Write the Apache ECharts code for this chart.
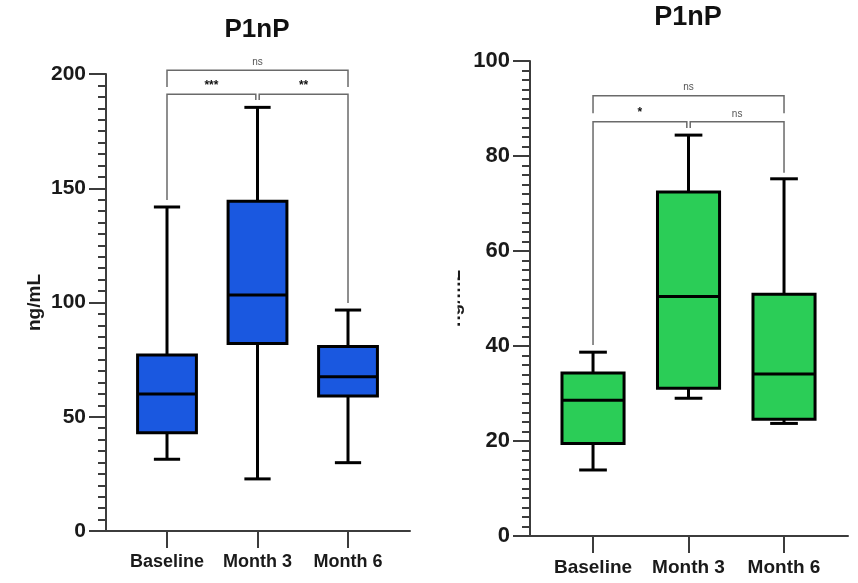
<!DOCTYPE html>
<html>
<head>
<meta charset="utf-8">
<script src="https://cdn.jsdelivr.net/npm/echarts@6/dist/echarts.min.js"></script>
<style>
html,body{margin:0;padding:0;background:#fff;}
#chart{width:858px;height:583px;}
</style>
</head>
<body>
<div id="chart"></div>
<script>
// ---- data ----
const categories = ['Baseline', 'Month 3', 'Month 6'];
const titles = ['P1nP', 'P1nP'];
const yAxisName = 'ng/mL';

const leftMin    = [31.4, 22.8, 29.9];
const leftQ1     = [43.0, 82.1, 59.1];
const leftMedian = [60.0, 103.3, 67.5];
const leftQ3     = [77.0, 144.3, 80.7];
const leftMax    = [141.8, 185.4, 96.7];
const leftTicks  = [0, 50, 100, 150, 200];

const rightMin    = [13.9, 29.0, 23.7];
const rightQ1     = [19.5, 31.1, 24.6];
const rightMedian = [28.6, 50.4, 34.1];
const rightQ3     = [34.3, 72.4, 50.9];
const rightMax    = [38.7, 84.4, 75.2];
const rightTicks  = [0, 20, 40, 60, 80, 100];

// significance brackets (category index from/to, bar height, leg ends, label)
const bracketFrom = [0, 1, 0];
const bracketTo   = [1, 2, 2];
const leftBracketY       = [191.1, 191.1, 201.6];
const leftBracketLegFrom = [144.9, 188.6, 194.3];
const leftBracketLegTo   = [188.6, 99.8, 194.3];
const leftBracketLabel   = ['***', '**', 'ns'];
const rightBracketY       = [87.2, 87.2, 92.7];
const rightBracketLegFrom = [40.2, 85.9, 89.0];
const rightBracketLegTo   = [85.9, 76.5, 89.0];
const rightBracketLabel   = ['*', 'ns', 'ns'];

// ---- styles ----
const FONT = "'Liberation Sans', Arial, Helvetica, sans-serif";
const AXIS_COLOR = '#3c3c3c';
const BOX_W = 0.65;
const CAP_W = 0.29;

function boxData(mn, q1, md, q3, mx) {
  return categories.map((c, i) => [i, mn[i], q1[i], md[i], q3[i], mx[i]]);
}
function bracketData(y, lf, lt, lab) {
  return bracketFrom.map((f, i) => ({ value: [f, bracketTo[i], y[i], lf[i], lt[i]], label: lab[i] }));
}

function makeBoxRender(color) {
  return function (params, api) {
    const x = api.value(0);
    const pMin = api.coord([x, api.value(1)]);
    const pQ1 = api.coord([x, api.value(2)]);
    const pMd = api.coord([x, api.value(3)]);
    const pQ3 = api.coord([x, api.value(4)]);
    const pMax = api.coord([x, api.value(5)]);
    const half = api.size([BOX_W, 0])[0] / 2;
    const cap = api.size([CAP_W, 0])[0] / 2;
    const cx = pMd[0];
    const ls = { stroke: '#000', lineWidth: 3 };
    return {
      type: 'group',
      children: [
        { type: 'line', shape: { x1: cx, y1: pMax[1], x2: cx, y2: pQ3[1] }, style: ls },
        { type: 'line', shape: { x1: cx, y1: pQ1[1], x2: cx, y2: pMin[1] }, style: ls },
        { type: 'line', shape: { x1: cx - cap, y1: pMax[1], x2: cx + cap, y2: pMax[1] }, style: ls },
        { type: 'line', shape: { x1: cx - cap, y1: pMin[1], x2: cx + cap, y2: pMin[1] }, style: ls },
        { type: 'rect', shape: { x: cx - half, y: pQ3[1], width: half * 2, height: pQ1[1] - pQ3[1] },
          style: { fill: color, stroke: '#000', lineWidth: 3 } },
        { type: 'line', shape: { x1: cx - half, y1: pMd[1], x2: cx + half, y2: pMd[1] }, style: ls }
      ]
    };
  };
}

function makeBracketRender(dataArr) {
  return function (params, api) {
    const f = api.value(0), t = api.value(1);
    const y = api.value(2), lf = api.value(3), lt = api.value(4);
    const insetF = (f === 1) ? 1.7 : 0;
    const insetT = (t === 1) ? 1.7 : 0;
    const a0 = api.coord([f, lf]);
    const a1 = api.coord([f, y]);
    const b1 = api.coord([t, y]);
    const b0 = api.coord([t, lt]);
    const xa = a1[0] + insetF, xb = b1[0] - insetT;
    const lab = dataArr[params.dataIndex].label;
    return {
      type: 'group',
      children: [
        { type: 'polyline', shape: { points: [[xa, a0[1]], [xa, a1[1]], [xb, b1[1]], [xb, b0[1]]] },
          style: { stroke: '#6a6a6a', lineWidth: 1.5, fill: null } },
        { type: 'text', style: { text: lab, x: (xa + xb) / 2, y: a1[1] - 3, align: 'center', verticalAlign: 'bottom',
          font: (lab === 'ns' ? 'normal 10px ' : 'bold 12px ') + FONT, fill: lab === 'ns' ? '#555' : '#111' } }
      ]
    };
  };
}

function xAxisCfg(gridIndex, min, max, fontSize) {
  return {
    type: 'value', gridIndex: gridIndex, min: min, max: max,
    splitLine: { show: false },
    axisLine: { show: true, onZero: false, lineStyle: { color: AXIS_COLOR, width: 2 } },
    axisTick: { show: true, customValues: [0, 1, 2], length: 17, lineStyle: { color: AXIS_COLOR, width: 2 } },
    axisLabel: { customValues: [0, 1, 2], formatter: v => categories[Math.round(v)], margin: 22,
      fontFamily: FONT, fontWeight: 'bold', fontSize: fontSize, color: '#1a1a1a' }
  };
}
function yAxisCfg(gridIndex, ticks, fontSize, nameGap) {
  return {
    type: 'value', gridIndex: gridIndex, min: ticks[0], max: ticks[ticks.length - 1],
    interval: ticks[1] - ticks[0],
    name: yAxisName, nameLocation: 'middle', nameGap: nameGap, nameRotate: 90,
    nameTextStyle: { fontFamily: FONT, fontWeight: 'bold', fontSize: 19, color: '#1a1a1a' },
    splitLine: { show: false },
    axisLine: { show: true, onZero: false, lineStyle: { color: AXIS_COLOR, width: 2 } },
    axisTick: { show: true, length: 17, lineStyle: { color: AXIS_COLOR, width: 2 } },
    minorTick: { show: true, splitNumber: 10, length: 8, lineStyle: { color: AXIS_COLOR, width: 2 } },
    minorSplitLine: { show: false },
    axisLabel: { margin: 20, fontFamily: FONT, fontWeight: 'bold', fontSize: fontSize, color: '#1a1a1a' }
  };
}

const leftBrackets = bracketData(leftBracketY, leftBracketLegFrom, leftBracketLegTo, leftBracketLabel);
const rightBrackets = bracketData(rightBracketY, rightBracketLegFrom, rightBracketLegTo, rightBracketLabel);

const chart = echarts.init(document.getElementById('chart'), null, { renderer: 'canvas' });
chart.setOption({
  backgroundColor: '#fff',
  animation: false,
  title: [
    { text: titles[0], left: 257, top: 17, textAlign: 'center', padding: 0,
      textStyle: { fontFamily: FONT, fontWeight: 'bold', fontSize: 26, color: '#111' } },
    { text: titles[1], left: 688, top: 4, textAlign: 'center', padding: 0,
      textStyle: { fontFamily: FONT, fontWeight: 'bold', fontSize: 27, color: '#111' } }
  ],
  grid: [
    { left: 106, width: 304, top: 74, height: 457 },
    { left: 530, width: 318, top: 61, height: 475 }
  ],
  xAxis: [xAxisCfg(0, -0.674, 2.685, 18), xAxisCfg(1, -0.66, 2.67, 19)],
  yAxis: [yAxisCfg(0, leftTicks, 21, 62), yAxisCfg(1, rightTicks, 22, 66)],
  graphic: [
    { type: 'rect', left: 436, top: 240, shape: { width: 21.5, height: 110 }, style: { fill: '#fff' }, z: 100 }
  ],
  series: [
    { type: 'custom', name: 'left box', xAxisIndex: 0, yAxisIndex: 0, clip: false,
      renderItem: makeBoxRender('#1a58e0'),
      encode: { x: 0, y: [1, 2, 3, 4, 5] },
      data: boxData(leftMin, leftQ1, leftMedian, leftQ3, leftMax) },
    { type: 'custom', name: 'left sig', xAxisIndex: 0, yAxisIndex: 0, clip: false,
      renderItem: makeBracketRender(leftBrackets),
      encode: { x: [0, 1], y: [2, 3, 4] },
      data: leftBrackets.map(d => d.value) },
    { type: 'custom', name: 'right box', xAxisIndex: 1, yAxisIndex: 1, clip: false,
      renderItem: makeBoxRender('#2bcd57'),
      encode: { x: 0, y: [1, 2, 3, 4, 5] },
      data: boxData(rightMin, rightQ1, rightMedian, rightQ3, rightMax) },
    { type: 'custom', name: 'right sig', xAxisIndex: 1, yAxisIndex: 1, clip: false,
      renderItem: makeBracketRender(rightBrackets),
      encode: { x: [0, 1], y: [2, 3, 4] },
      data: rightBrackets.map(d => d.value) }
  ]
});
</script>
</body>
</html>
